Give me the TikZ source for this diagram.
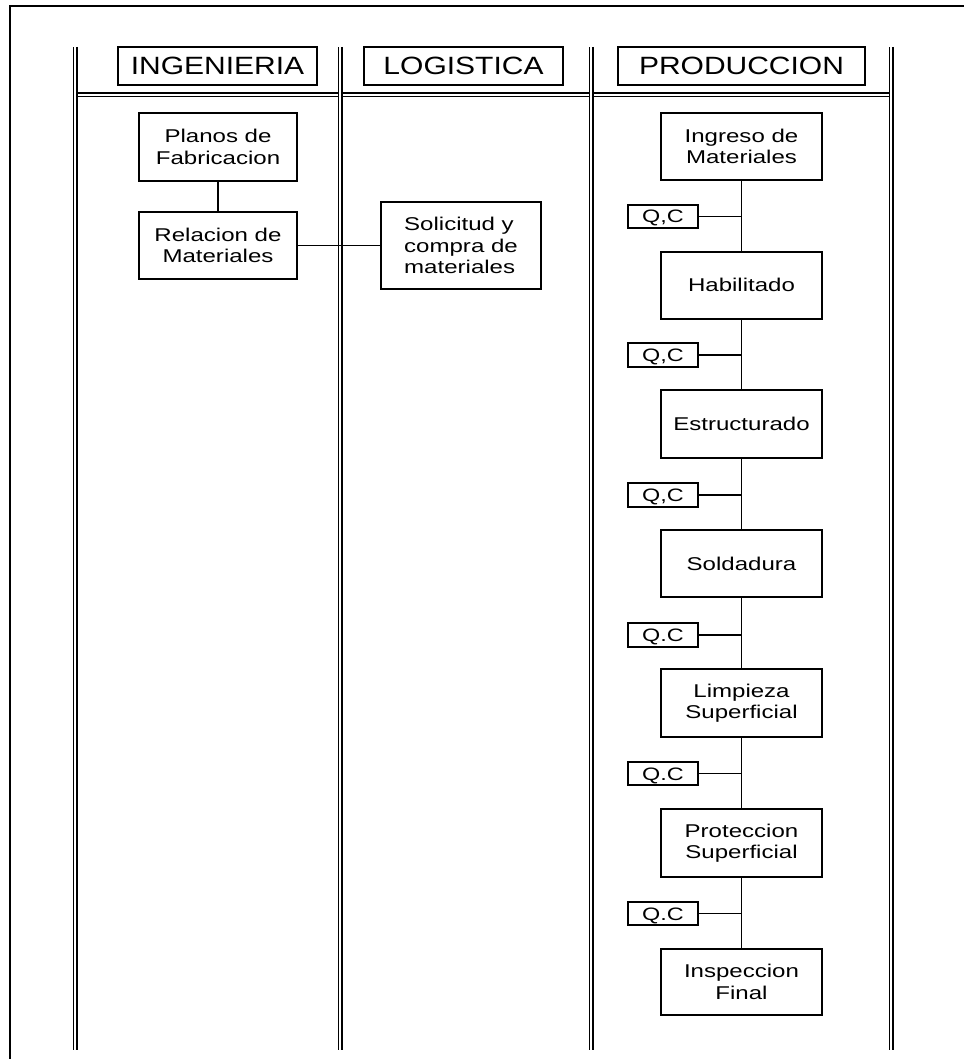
\documentclass[tikz,border=0pt]{standalone}
\usepackage{fontspec}
\setmainfont{Liberation Sans}
\newfontfamily\bodyf[FakeStretch=1.3]{Liberation Sans}
\newfontfamily\headf[FakeStretch=1.2]{Liberation Sans}
\begin{document}
\begin{tikzpicture}[x=1pt,y=-1pt,
  lane/.style={draw=black,line width=1.5pt,double=white,double distance=2pt},
  frameline/.style={line width=2.8pt},
  headbox/.style={draw,line width=1.9pt,minimum height=38pt,inner sep=0pt,text height=18pt,text depth=0pt,font=\headf\fontsize{25}{27}\selectfont},
  procbox/.style={draw,line width=2pt,align=center,inner sep=0pt,font=\bodyf\fontsize{18.5}{21.5}\selectfont},
  qcbox/.style={draw,line width=1.9pt,minimum width=70pt,minimum height=23.5pt,inner sep=0pt,text height=13pt,text depth=0pt,font=\bodyf\fontsize{18}{20}\selectfont},
  link/.style={line width=1.8pt}]
\useasboundingbox[fill=white] (0,0) rectangle (964,1059);
% outer frame (top and left)
\draw[frameline] (10,1059) -- (10,6) -- (964,6);
% swimlanes
\draw[lane] (75,95) -- (891,95);
\foreach \x in {75,340,591,891} \draw[lane] (\x,47) -- (\x,1050);
% headers
\node[headbox,minimum width=199pt] (hing) at (217.5,66) {INGENIERIA};
\node[headbox,minimum width=199pt] (hlog) at (463.5,66) {LOGISTICA};
\node[headbox,minimum width=247pt] (hprod) at (741.5,66) {PRODUCCION};
% ingenieria
\node[procbox,minimum width=158pt,minimum height=68pt] (planos) at (218,147) {Planos de\\Fabricacion};
\node[procbox,minimum width=158pt,minimum height=67pt] (relac) at (218,245.5) {Relacion de\\Materiales};
% logistica
\node[procbox,align=left,minimum width=160pt,minimum height=87pt] (solic) at (461,245.5) {Solicitud y\\compra de\\materiales};
% produccion
\node[procbox,minimum width=161pt,minimum height=67pt] (p1) at (741.5,146.5) {Ingreso de\\Materiales};
\node[procbox,minimum width=161pt,minimum height=67pt] (p2) at (741.5,285) {Habilitado};
\node[procbox,minimum width=161pt,minimum height=68pt] (p3) at (741.5,424) {Estructurado};
\node[procbox,minimum width=161pt,minimum height=67pt] (p4) at (741.5,563.5) {Soldadura};
\node[procbox,minimum width=161pt,minimum height=68pt] (p5) at (741.5,703) {Limpieza\\Superficial};
\node[procbox,minimum width=161pt,minimum height=68pt] (p6) at (741.5,843) {Proteccion\\Superficial};
\node[procbox,minimum width=161pt,minimum height=66pt] (p7) at (741.5,982) {Inspeccion\\Final};
% QC boxes
\node[qcbox] (q1) at (663,216.5) {Q,C};
\node[qcbox] (q2) at (663,355) {Q,C};
\node[qcbox] (q3) at (663,495) {Q,C};
\node[qcbox] (q4) at (663,635) {Q.C};
\node[qcbox] (q5) at (663,773.5) {Q.C};
\node[qcbox] (q6) at (663,913.5) {Q.C};
% connectors
\draw[link] (planos) -- (relac);
\draw[link] (relac.east) -- (relac.east -| solic.west);
\draw[link] (p1) -- (p2);
\draw[link] (p2) -- (p3);
\draw[link] (p3) -- (p4);
\draw[link] (p4) -- (p5);
\draw[link] (p5) -- (p6);
\draw[link] (p6) -- (p7);
\draw[link] (q1.east) -- (q1.east -| p1.south);
\draw[link] (q2.east) -- (q2.east -| p2.south);
\draw[link] (q3.east) -- (q3.east -| p3.south);
\draw[link] (q4.east) -- (q4.east -| p4.south);
\draw[link] (q5.east) -- (q5.east -| p5.south);
\draw[link] (q6.east) -- (q6.east -| p6.south);
\end{tikzpicture}
\end{document}
